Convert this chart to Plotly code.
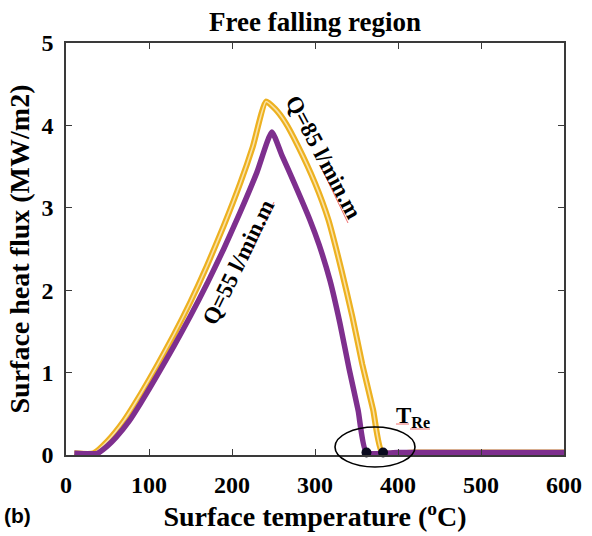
import plotly.graph_objects as go

# ---- data ----
T85 = [10, 33, 50, 70, 90, 110, 130, 150, 170, 190, 210, 225, 241,
       252, 264, 280, 300, 316, 332, 345, 357, 370, 381, 420, 480, 540, 600]
q85 = [0.02, 0.02, 0.17, 0.42, 0.74, 1.09, 1.46, 1.86, 2.30, 2.78, 3.30, 3.74, 4.29,
       4.20, 4.04, 3.74, 3.30, 2.86, 2.24, 1.68, 1.10, 0.55, 0.03, 0.03, 0.03, 0.03, 0.03]

T55 = [10, 38, 50, 60, 76, 90, 110, 130, 150, 170, 190, 210, 230, 248,
       260, 275, 294, 305, 318, 330, 341, 352, 362, 400, 450, 500, 550, 600]
q55 = [0.02, 0.02, 0.11, 0.21, 0.41, 0.63, 0.97, 1.32, 1.69, 2.08, 2.50, 2.95, 3.43, 3.92,
       3.64, 3.30, 2.85, 2.55, 2.12, 1.60, 1.05, 0.54, 0.03, 0.03, 0.03, 0.03, 0.03, 0.03]

TRe_T = [362, 382]
TRe_q = [0.03, 0.03]

x_ticks = [0, 100, 200, 300, 400, 500, 600]
y_ticks = [0, 1, 2, 3, 4, 5]

PURPLE = "#7E2F8E"
ORANGE = "#EDB120"
SERIF = "Liberation Serif"

# plot area in pixels (for placing free annotations)
L, R, TOP, BOT = 66, 564, 43, 455


def px(x):
    return (x - L) / (R - L)


def py(y):
    return (BOT - y) / (BOT - TOP)


fig = go.Figure()

# Q = 85 l/min.m (hollow-square look)
fig.add_trace(go.Scatter(x=T85, y=q85, mode="lines",
                         line=dict(color=ORANGE, width=6, shape="spline", smoothing=0.5),
                         cliponaxis=False, showlegend=False, hoverinfo="skip"))
fig.add_trace(go.Scatter(x=T85, y=q85, mode="lines",
                         line=dict(color="#F9E2A6", width=1.6, shape="spline", smoothing=0.5),
                         cliponaxis=False, showlegend=False, name="Q=85 l/min.m"))
# Q = 55 l/min.m
fig.add_trace(go.Scatter(x=T55, y=q55, mode="lines",
                         line=dict(color=PURPLE, width=5.5, shape="spline", smoothing=0.5),
                         cliponaxis=False, showlegend=False, name="Q=55 l/min.m"))
# Rewetting temperatures
fig.add_trace(go.Scatter(x=TRe_T, y=TRe_q, mode="markers",
                         marker=dict(color="#0A0A1E", size=10), cliponaxis=False,
                         showlegend=False, name="T_Re"))

# ellipse around rewetting points
fig.add_shape(type="circle", xref="x domain", yref="y domain",
              x0=px(335), x1=px(415), y0=py(467), y1=py(427),
              line=dict(color="black", width=1.6))

# spell-check style red underlines
red = dict(color="#F07070", width=1)
for (xa, ya, xb, yb) in [(320, 165, 348, 223), (247, 260, 274, 202),
                         (410, 429, 430, 429), (396, 424, 409, 424)]:
    fig.add_shape(type="line", xref="paper", yref="paper",
                  x0=px(xa), y0=py(ya), x1=px(xb), y1=py(yb), line=red)

ann_font = dict(family=SERIF, size=23, color="black", weight="bold")
fig.add_annotation(text="Q=85 l/min.m", xref="paper", yref="paper",
                   x=px(324), y=py(157), textangle=62, showarrow=False,
                   font=ann_font, xanchor="center", yanchor="middle")
fig.add_annotation(text="Q=55 l/min.m", xref="paper", yref="paper",
                   x=px(238), y=py(262), textangle=-64, showarrow=False,
                   font=ann_font, xanchor="center", yanchor="middle")
fig.add_annotation(text="T<sub>Re</sub>", xref="paper", yref="paper",
                   x=px(413), y=py(417), showarrow=False,
                   font=dict(family=SERIF, size=23, color="black", weight="bold"),
                   xanchor="center", yanchor="middle")
fig.add_annotation(text="(b)", xref="paper", yref="paper",
                   x=px(2), y=py(515), showarrow=False,
                   font=dict(family="Liberation Sans", size=21, color="black", weight="bold"),
                   xanchor="left", yanchor="middle")

axis_common = dict(showline=True, linecolor="#3a3a3a", linewidth=1.5, mirror="ticks",
                   ticks="inside", ticklen=6, tickwidth=1.2, tickcolor="#3a3a3a",
                   showgrid=False, zeroline=False, automargin=False,
                   tickfont=dict(family=SERIF, size=24, color="black", weight="bold"))

fig.update_layout(
    width=592, height=536,
    margin=dict(l=L, r=592 - R, t=TOP, b=536 - BOT),
    paper_bgcolor="white", plot_bgcolor="white",
    title=dict(text="Free falling region", x=0.532, xanchor="center", y=1 - 22 / 536,
               yanchor="middle",
               font=dict(family=SERIF, size=27, color="black", weight="bold")),
    xaxis=dict(range=[0, 600], tickvals=x_ticks, ticktext=[str(v) for v in x_ticks],
               ticklabelstandoff=7,
               title=dict(text="Surface temperature (<sup>o</sup>C)", standoff=10,
                          font=dict(family=SERIF, size=28, color="black", weight="bold")),
               **axis_common),
    yaxis=dict(range=[0, 5], tickvals=y_ticks, ticktext=[str(v) for v in y_ticks],
               ticklabelstandoff=6,
               title=dict(text="Surface heat flux (MW/m2)", standoff=4,
                          font=dict(family=SERIF, size=28, color="black", weight="bold")),
               **axis_common),
)

fig.write_html("out.html")
